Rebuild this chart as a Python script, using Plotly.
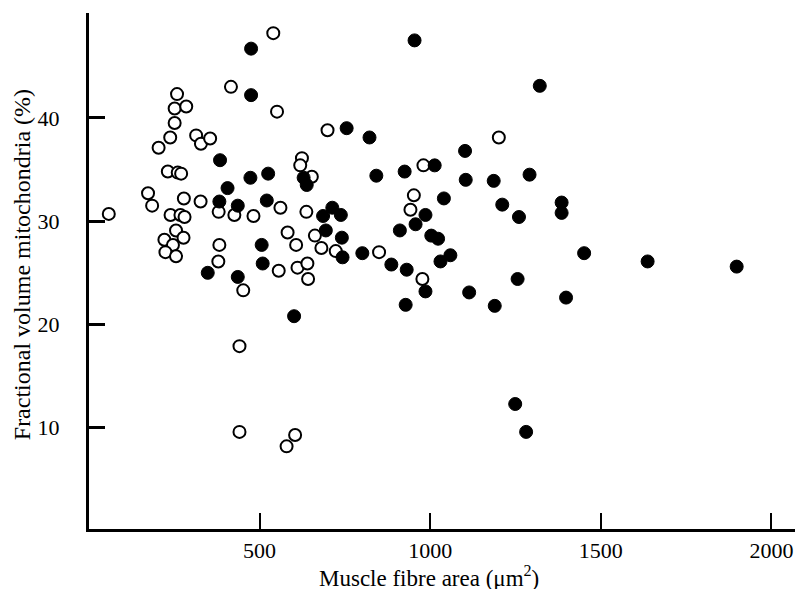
import plotly.graph_objects as go

# Open circles
open_x = [540, 416, 551, 258, 251, 285, 251, 238, 204, 314, 328, 355, 231, 260, 270,
          624, 619, 653, 173, 185, 278, 327, 561, 380, 426, 482, 637, 239, 268, 280,
          58, 255, 221, 277, 246, 224, 255, 382, 379, 582, 607, 662, 681, 452, 556,
          611, 640, 642, 441, 441, 604, 579, 699, 1201, 980, 952, 942, 723, 850, 977]
open_y = [48.2, 43.0, 40.6, 42.3, 40.9, 41.1, 39.5, 38.1, 37.1, 38.3, 37.5, 38.0, 34.8, 34.7, 34.6,
          36.1, 35.4, 34.3, 32.7, 31.5, 32.2, 31.9, 31.3, 30.9, 30.6, 30.5, 30.9, 30.6, 30.6, 30.4,
          30.7, 29.1, 28.2, 28.4, 27.7, 27.0, 26.6, 27.7, 26.1, 28.9, 27.7, 28.6, 27.4, 23.3, 25.2,
          25.5, 25.9, 24.4, 17.9, 9.6, 9.3, 8.2, 38.8, 38.1, 35.4, 32.5, 31.1, 27.1, 27.0, 24.4]

# Filled circles
filled_x = [475, 475, 384, 473, 525, 629, 638, 406, 382, 436, 521, 348, 436, 506, 509, 601,
            954, 1321, 755, 822, 1102, 842, 925, 1013, 1104, 1186, 1291, 1385, 1385, 986,
            957, 1040, 1211, 1260, 713, 686, 738, 694, 741, 743, 801, 911, 1003, 1023, 886,
            931, 1030, 1059, 986, 928, 1114, 1189, 1256, 1398, 1249, 1281, 1451, 1637, 1898]
filled_y = [46.7, 42.2, 35.9, 34.2, 34.6, 34.2, 33.5, 33.2, 31.9, 31.5, 32.0, 25.0, 24.6, 27.7, 25.9, 20.8,
            47.5, 43.1, 39.0, 38.1, 36.8, 34.4, 34.8, 35.4, 34.0, 33.9, 34.5, 31.8, 30.8, 30.6,
            29.7, 32.2, 31.6, 30.4, 31.3, 30.5, 30.6, 29.1, 28.4, 26.5, 26.9, 29.1, 28.6, 28.3, 25.8,
            25.3, 26.1, 26.7, 23.2, 21.9, 23.1, 21.8, 24.4, 22.6, 12.3, 9.6, 26.9, 26.1, 25.6]

x_ticks = [500, 1000, 1500, 2000]
y_ticks = [10, 20, 30, 40]

FONT = "Liberation Serif"

fig = go.Figure()
fig.add_trace(go.Scatter(
    x=open_x, y=open_y, mode="markers",
    marker=dict(size=12, color="white", line=dict(color="black", width=2)),
    showlegend=False, hoverinfo="x+y"))
fig.add_trace(go.Scatter(
    x=filled_x, y=filled_y, mode="markers",
    marker=dict(size=13, color="black", line=dict(color="black", width=1)),
    showlegend=False, hoverinfo="x+y"))

fig.update_layout(
    width=803, height=589,
    margin=dict(l=81, r=3, t=5, b=68),
    paper_bgcolor="white", plot_bgcolor="white",
    font=dict(family=FONT, size=22, color="black"),
    xaxis=dict(range=[0, 2107], tickvals=x_ticks, ticktext=[str(v) for v in x_ticks],
               ticks="inside", ticklen=16, tickwidth=2, tickcolor="black",
               showline=True, linewidth=3, linecolor="black",
               showgrid=False, zeroline=False, ticklabelstandoff=0,
               tickfont=dict(family=FONT, size=22, color="black")),
    yaxis=dict(range=[0.2, 50.15], tickvals=y_ticks, ticktext=[str(v) for v in y_ticks],
               ticks="inside", ticklen=16, tickwidth=3, tickcolor="black",
               showline=True, linewidth=3, linecolor="black",
               showgrid=False, zeroline=False, ticklabelstandoff=22,
               tickfont=dict(family=FONT, size=22, color="black")),
    annotations=[
        dict(text="Fractional volume mitochondria (%)", xref="paper", yref="paper",
             x=-0.094, y=0.512, xanchor="center", yanchor="middle", textangle=-90,
             showarrow=False, font=dict(family=FONT, size=24, color="black")),
        dict(text="Muscle fibre area (μm<sup>2</sup>)", xref="paper", yref="paper",
             x=0.473, y=-0.092, xanchor="center", yanchor="middle",
             showarrow=False, font=dict(family=FONT, size=23, color="black")),
    ],
)

fig.write_html("out.html")
